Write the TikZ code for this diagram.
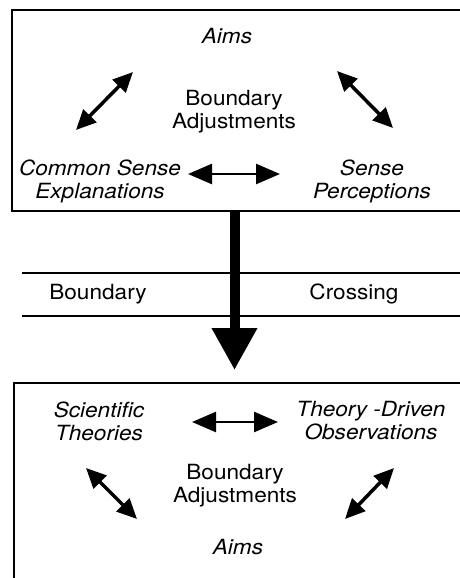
\documentclass[tikz,border=0pt]{standalone}
\usepackage{fontspec}
\setmainfont[FakeStretch=1.08]{TeX Gyre Heros}
\usetikzlibrary{arrows.meta}

\begin{document}
\begin{tikzpicture}[
  x=1bp, y=-1bp,
  frame/.style={draw, line width=2.5bp},
  idea/.style={align=center, inner sep=0pt, font=\fontsize{21}{23}\selectfont\itshape},
  plain/.style={align=center, inner sep=0pt, font=\fontsize{21}{23}\selectfont},
  dbl/.style={{Triangle[length=20bp,width=18bp]}-{Triangle[length=20bp,width=18bp]}, line width=3.5bp},
  flat/.style={{Triangle[length=24bp,width=20bp]}-{Triangle[length=24bp,width=20bp]}, line width=2.5bp},
  rule/.style={line width=1.8bp},
  crossing/.style={-{Triangle[length=42bp,width=43bp]}, line width=10bp}
]
\useasboundingbox (0,0) rectangle (460,578);
\clip (0,0) rectangle (460,578);

% everyday world
\draw[frame] (470,10) -- (12,10) -- (12,211) -- (470,211);
\node[idea] (aimsA) at (227,36) {Aims};
\node[plain] (adjA) at (234,112) {Boundary\\Adjustments};
\node[idea] (cse) at (100,181) {Common Sense\\Explanations};
\node[idea] (perc) at (372,181) {Sense\\Perceptions};

\coordinate (a1) at (76,130);  \coordinate (a2) at (133,72);
\coordinate (b1) at (337,71);  \coordinate (b2) at (393,128);
\coordinate (c1) at (188,174); \coordinate (c2) at (280,174);
\draw[dbl] (a1) -- (a2);
\draw[dbl] (b1) -- (b2);
\draw[flat] (c1) -- (c2);

% boundary crossing
\coordinate (r1) at (22,273); \coordinate (r2) at (470,273);
\coordinate (s1) at (22,316); \coordinate (s2) at (470,316);
\draw[rule] (r1) -- (r2);
\draw[rule] (s1) -- (s2);
\node[plain] (bnd) at (98,294) {Boundary};
\node[plain] (crs) at (354,294) {Crossing};

\coordinate (top) at (234.5,211);
\coordinate (tip) at (234.5,370);
\draw[crossing] (top) -- (tip);

% scientific world
\draw[frame] (470,383) -- (14,383) -- (14,590);
\node[idea] (sci) at (99,421) {Scientific\\Theories};
\node[idea] (obs) at (371,421) {Theory -Driven\\Observations};
\node[plain] (adjB) at (235,486) {Boundary\\Adjustments};
\node[idea] (aimsB) at (238,547) {Aims};

\coordinate (d1) at (192,422); \coordinate (d2) at (278,422);
\coordinate (e1) at (86,468);  \coordinate (e2) at (137,519);
\coordinate (f1) at (394,468); \coordinate (f2) at (345,519);
\draw[flat] (d1) -- (d2);
\draw[dbl] (e1) -- (e2);
\draw[dbl] (f1) -- (f2);
\end{tikzpicture}
\end{document}
